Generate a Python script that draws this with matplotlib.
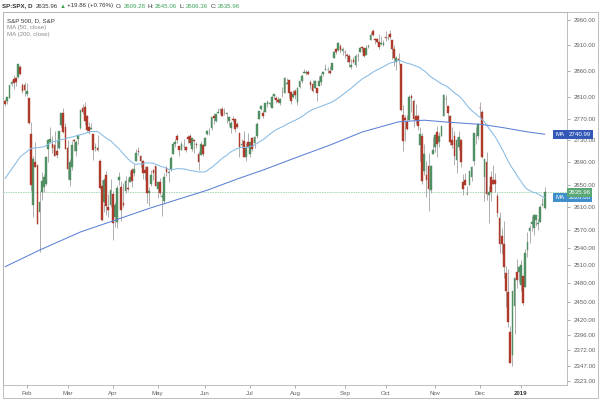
import matplotlib
matplotlib.use("Agg")
import matplotlib.pyplot as plt
import numpy as np
import pandas as pd
from matplotlib.patches import Rectangle
from matplotlib.ticker import FixedLocator, FixedFormatter, NullLocator

# ---------------- data (S&P 500 daily, 18 Jan 2018 .. 17 Jan 2019) ----------------
opens = [
2802.4, 2802.6, 2809.2, 2835.1, 2845.4, 2846.2, 2847.5, 2867.2, 2832.7, 2832.4,
2816.5, 2808.9, 2741.1, 2614.8, 2691.0, 2685.0, 2601.8, 2636.8, 2646.3, 2651.2,
2713.5, 2727.1, 2723.0, 2720.5, 2710.4, 2715.8, 2757.4, 2780.5, 2753.8, 2715.2,
2658.9, 2681.1, 2730.2, 2710.2, 2732.8, 2752.9, 2790.5, 2792.3, 2774.1, 2754.3,
2750.6, 2741.4, 2715.1, 2715.0, 2691.4, 2646.7, 2619.4, 2667.6, 2611.3, 2614.4,
2633.5, 2592.2, 2584.0, 2657.4, 2645.8, 2617.2, 2638.4, 2643.9, 2653.8, 2676.9,
2670.1, 2692.7, 2710.1, 2701.2, 2692.6, 2675.4, 2680.8, 2634.9, 2651.7, 2675.5,
2682.5, 2643.0, 2654.2, 2628.1, 2621.5, 2680.3, 2670.3, 2678.1, 2705.0, 2722.7,
2738.5, 2718.6, 2712.6, 2719.7, 2717.4, 2735.4, 2738.3, 2714.0, 2730.9, 2723.6,
2705.1, 2702.4, 2721.0, 2718.7, 2741.7, 2748.5, 2753.3, 2774.8, 2765.8, 2780.2,
2785.6, 2787.9, 2783.2, 2777.8, 2765.8, 2752.0, 2769.7, 2769.3, 2760.8, 2742.9,
2722.1, 2728.5, 2698.7, 2727.1, 2705.0, 2733.3, 2724.2, 2737.7, 2768.5, 2788.6,
2779.8, 2783.1, 2796.9, 2797.4, 2789.3, 2811.4, 2809.4, 2804.6, 2799.2, 2820.7,
2817.7, 2835.5, 2842.4, 2819.0, 2809.7, 2821.2, 2800.5, 2829.6, 2840.3, 2855.9,
2856.8, 2857.2, 2838.9, 2835.5, 2827.9, 2828.0, 2831.4, 2838.3, 2853.9, 2861.5,
2861.0, 2860.3, 2862.4, 2884.7, 2901.5, 2900.6, 2908.9, 2898.4, 2897.0, 2891.6,
2888.6, 2868.3, 2881.4, 2871.6, 2888.3, 2896.9, 2906.4, 2903.8, 2890.7, 2906.6,
2919.7, 2936.8, 2921.8, 2921.8, 2917.0, 2911.7, 2910.0, 2926.3, 2923.8, 2931.7,
2919.4, 2902.5, 2877.5, 2882.5, 2873.9, 2776.9, 2770.5, 2763.8, 2767.1, 2811.7,
2802.0, 2775.7, 2773.9, 2721.0, 2737.9, 2674.9, 2667.9, 2682.7, 2640.7, 2705.6,
2717.6, 2745.5, 2726.4, 2738.4, 2774.1, 2806.4, 2794.1, 2773.9, 2730.1, 2737.9,
2693.5, 2718.5, 2730.7, 2654.6, 2657.7, 2633.4, 2650.0, 2663.8, 2691.5, 2737.0,
2737.8, 2790.5, 2782.4, 2663.5, 2691.3, 2630.9, 2664.4, 2658.2, 2658.7, 2629.7,
2590.8, 2559.9, 2547.1, 2496.8, 2465.4, 2400.6, 2363.1, 2442.5, 2498.8, 2498.9,
2477.0, 2491.9, 2474.3, 2535.6, 2568.1, 2580.0, 2573.5, 2588.1, 2580.3, 2585.1,
2614.8, 2609.28]

highs = [
2805.8, 2810.3, 2833.0, 2842.2, 2852.1, 2848.6, 2872.9, 2870.6, 2837.8, 2839.3,
2836.0, 2808.9, 2763.4, 2701.0, 2727.7, 2685.3, 2638.7, 2672.6, 2668.8, 2702.1,
2731.5, 2754.4, 2737.6, 2747.8, 2731.3, 2747.8, 2780.6, 2789.2, 2761.5, 2730.9,
2696.3, 2728.1, 2732.1, 2730.6, 2740.5, 2786.6, 2797.0, 2801.9, 2777.1, 2763.0,
2761.9, 2741.4, 2724.2, 2739.1, 2695.7, 2657.7, 2661.4, 2674.8, 2632.7, 2659.1,
2638.3, 2619.1, 2649.9, 2672.1, 2656.9, 2653.6, 2665.5, 2661.4, 2674.7, 2680.3,
2686.5, 2713.3, 2717.5, 2702.8, 2693.9, 2682.9, 2683.6, 2645.3, 2676.5, 2677.4,
2682.9, 2655.3, 2660.9, 2637.1, 2670.9, 2683.4, 2676.3, 2701.3, 2726.1, 2732.9,
2742.1, 2718.6, 2727.8, 2732.0, 2719.5, 2739.2, 2742.2, 2733.3, 2732.0, 2727.4,
2710.7, 2729.3, 2722.5, 2736.9, 2749.2, 2752.6, 2772.4, 2779.9, 2779.4, 2790.2,
2789.8, 2791.5, 2789.1, 2782.8, 2775.0, 2765.1, 2774.9, 2769.3, 2764.2, 2742.9,
2732.9, 2746.1, 2724.3, 2743.3, 2727.3, 2736.6, 2737.8, 2764.4, 2784.7, 2795.6,
2785.9, 2799.2, 2804.5, 2801.2, 2814.2, 2816.8, 2812.1, 2809.7, 2808.6, 2830.0,
2848.0, 2845.6, 2843.2, 2821.7, 2824.5, 2825.8, 2829.9, 2840.4, 2853.3, 2863.4,
2862.4, 2862.5, 2842.2, 2843.4, 2843.1, 2828.0, 2850.5, 2855.6, 2859.8, 2873.2,
2867.5, 2868.8, 2876.2, 2898.3, 2903.8, 2916.5, 2912.5, 2906.3, 2900.2, 2894.2,
2892.1, 2883.8, 2886.9, 2892.5, 2894.7, 2906.8, 2908.3, 2904.7, 2911.2, 2912.4,
2934.8, 2940.9, 2923.8, 2924.0, 2931.2, 2927.2, 2920.5, 2937.1, 2931.4, 2939.9,
2919.8, 2909.6, 2889.5, 2894.8, 2874.0, 2795.1, 2775.8, 2776.0, 2813.5, 2816.9,
2806.0, 2797.8, 2778.9, 2753.6, 2742.6, 2722.7, 2692.4, 2706.9, 2685.4, 2736.7,
2741.7, 2756.6, 2744.3, 2756.8, 2815.2, 2814.8, 2794.1, 2776.0, 2754.6, 2746.8,
2735.4, 2746.8, 2733.2, 2669.4, 2670.7, 2647.6, 2674.4, 2682.5, 2744.0, 2753.8,
2760.9, 2800.2, 2785.9, 2696.2, 2708.5, 2647.5, 2674.4, 2685.4, 2670.2, 2635.1,
2601.1, 2574.0, 2585.3, 2509.6, 2504.4, 2410.3, 2467.8, 2489.1, 2520.3, 2509.2,
2519.5, 2493.1, 2538.1, 2566.2, 2579.8, 2595.3, 2597.8, 2596.3, 2589.3, 2613.1,
2625.8, 2645.06]

lows = [
2792.6, 2798.1, 2808.1, 2830.6, 2824.8, 2830.9, 2846.2, 2851.5, 2818.3, 2813.0,
2812.7, 2760.0, 2638.2, 2593.1, 2681.3, 2580.6, 2532.7, 2622.5, 2637.1, 2648.9,
2689.8, 2725.1, 2706.8, 2701.3, 2697.8, 2713.7, 2753.8, 2744.2, 2713.5, 2659.7,
2647.3, 2675.8, 2711.3, 2701.7, 2722.7, 2751.5, 2779.3, 2758.7, 2744.4, 2741.5,
2750.0, 2694.6, 2710.1, 2709.8, 2641.6, 2585.9, 2601.8, 2596.1, 2593.1, 2609.7,
2553.8, 2575.5, 2573.6, 2649.6, 2586.3, 2610.8, 2635.8, 2639.3, 2653.8, 2645.1,
2665.2, 2692.1, 2703.6, 2681.9, 2660.6, 2658.0, 2617.3, 2612.7, 2647.2, 2659.0,
2648.0, 2625.4, 2631.7, 2594.6, 2615.3, 2664.7, 2655.2, 2674.1, 2704.5, 2717.5,
2725.5, 2701.9, 2712.2, 2711.4, 2709.2, 2725.7, 2721.9, 2709.5, 2707.4, 2715.0,
2676.8, 2702.4, 2700.7, 2718.7, 2740.5, 2739.5, 2748.5, 2760.2, 2763.6, 2780.2,
2778.8, 2774.7, 2776.5, 2761.7, 2757.1, 2743.2, 2763.9, 2744.4, 2752.7, 2698.7,
2715.6, 2699.4, 2692.0, 2718.0, 2699.0, 2711.2, 2716.0, 2733.5, 2768.5, 2786.2,
2770.8, 2781.5, 2791.7, 2793.4, 2789.2, 2805.9, 2799.8, 2800.0, 2795.1, 2811.1,
2817.7, 2835.3, 2808.3, 2798.1, 2808.1, 2805.9, 2796.3, 2827.4, 2836.0, 2855.9,
2853.1, 2852.0, 2825.8, 2819.9, 2826.6, 2802.5, 2831.4, 2833.7, 2850.6, 2861.3,
2856.1, 2854.0, 2862.4, 2884.7, 2893.5, 2898.4, 2895.2, 2891.7, 2885.1, 2876.9,
2867.3, 2864.1, 2875.9, 2866.8, 2879.2, 2896.4, 2895.8, 2886.2, 2890.4, 2903.8,
2919.7, 2927.1, 2912.6, 2913.7, 2903.3, 2909.3, 2907.5, 2917.9, 2919.4, 2921.4,
2883.9, 2869.3, 2862.1, 2874.3, 2784.9, 2710.5, 2729.4, 2749.0, 2766.9, 2781.8,
2755.2, 2760.3, 2749.2, 2691.4, 2651.9, 2667.8, 2628.2, 2603.5, 2635.3, 2705.6,
2708.9, 2700.4, 2717.9, 2737.1, 2774.1, 2795.0, 2764.2, 2722.0, 2715.0, 2685.8,
2670.8, 2712.2, 2681.1, 2631.5, 2649.8, 2631.1, 2650.0, 2655.9, 2684.4, 2722.9,
2732.8, 2773.4, 2697.2, 2621.5, 2623.1, 2583.2, 2621.3, 2650.3, 2637.3, 2593.8,
2530.5, 2528.7, 2489.0, 2441.2, 2408.6, 2351.1, 2346.6, 2397.9, 2472.9, 2482.8,
2467.5, 2444.0, 2474.3, 2524.6, 2547.6, 2568.9, 2562.0, 2577.4, 2570.4, 2585.1,
2612.7, 2606.36]

closes = [
2798.0, 2810.3, 2833.0, 2839.1, 2837.5, 2839.3, 2872.9, 2853.5, 2822.4, 2823.8,
2822.0, 2762.1, 2648.9, 2695.1, 2681.7, 2581.0, 2619.6, 2656.0, 2662.9, 2698.6,
2731.2, 2732.2, 2716.3, 2701.3, 2704.0, 2747.3, 2779.6, 2744.3, 2713.8, 2677.7,
2691.3, 2720.9, 2728.1, 2726.8, 2739.0, 2786.6, 2783.0, 2765.3, 2749.5, 2747.3,
2752.0, 2712.9, 2716.9, 2711.9, 2643.7, 2588.3, 2658.6, 2612.6, 2605.0, 2640.9,
2581.9, 2614.5, 2644.7, 2662.8, 2604.5, 2613.2, 2656.9, 2642.2, 2664.0, 2656.3,
2677.8, 2706.4, 2708.6, 2693.1, 2670.1, 2670.3, 2634.6, 2639.4, 2666.9, 2669.9,
2648.1, 2654.8, 2635.7, 2629.7, 2663.4, 2672.6, 2671.9, 2697.8, 2723.1, 2727.7,
2730.1, 2711.5, 2722.5, 2720.1, 2713.0, 2733.0, 2724.4, 2733.3, 2727.8, 2721.3,
2689.9, 2724.0, 2705.3, 2734.6, 2746.9, 2748.8, 2772.4, 2770.4, 2779.0, 2782.0,
2786.9, 2775.6, 2782.5, 2779.7, 2773.8, 2762.6, 2767.3, 2749.8, 2754.9, 2717.1,
2723.1, 2699.6, 2716.3, 2718.4, 2726.7, 2713.2, 2736.6, 2759.8, 2784.2, 2793.8,
2774.0, 2798.3, 2801.3, 2798.4, 2809.6, 2815.6, 2804.5, 2801.8, 2807.0, 2820.4,
2846.1, 2837.4, 2818.8, 2802.6, 2816.3, 2813.4, 2827.2, 2840.4, 2850.4, 2858.5,
2857.7, 2853.6, 2833.3, 2821.9, 2840.0, 2818.4, 2840.7, 2850.1, 2857.1, 2863.0,
2861.8, 2857.0, 2874.7, 2896.7, 2897.5, 2914.0, 2901.1, 2901.5, 2896.7, 2888.6,
2878.1, 2871.7, 2877.1, 2887.9, 2888.9, 2904.2, 2905.0, 2888.8, 2904.3, 2908.0,
2930.8, 2929.7, 2919.4, 2915.6, 2906.0, 2914.0, 2914.0, 2924.6, 2923.4, 2925.5,
2901.6, 2885.6, 2884.4, 2880.3, 2785.7, 2728.4, 2767.1, 2750.8, 2809.9, 2809.2,
2768.8, 2767.8, 2755.9, 2740.7, 2656.1, 2705.6, 2658.7, 2641.3, 2682.6, 2711.7,
2740.4, 2723.1, 2738.3, 2755.5, 2813.9, 2806.8, 2781.0, 2726.2, 2722.2, 2701.6,
2730.2, 2736.3, 2690.7, 2641.9, 2649.9, 2632.6, 2673.5, 2682.2, 2743.8, 2737.8,
2760.2, 2790.4, 2700.1, 2696.0, 2633.1, 2637.7, 2636.8, 2651.1, 2650.5, 2600.0,
2545.9, 2546.2, 2507.0, 2467.4, 2416.6, 2351.1, 2467.7, 2488.8, 2485.7, 2506.9,
2510.0, 2447.9, 2531.9, 2549.7, 2574.4, 2585.0, 2596.6, 2596.3, 2582.6, 2610.3,
2616.1, 2635.96]

# MA(50) before the 50-bar window is filled
ma50_early_idx = [0, 7, 12, 18, 22, 29, 35, 40, 43, 48]
ma50_early_val = [2661, 2700, 2715, 2718, 2727, 2734, 2740, 2746, 2746, 2731]
# MA(200)
ma200_idx = [0, 16, 35, 50, 67, 94, 108, 120, 135, 151, 166, 183, 195, 207, 222, 232, 242, 251]
ma200_val = [2508, 2536, 2567, 2586, 2608, 2640, 2660, 2676, 2698, 2721, 2745, 2764, 2767,
             2763, 2759, 2753, 2746, 2740.99]

month_idx = [10, 29, 50, 71, 93, 114, 135, 158, 177, 200, 221, 240]
month_labels = ["Feb", "Mar", "Apr", "May", "Jun", "Jul", "Aug", "Sep", "Oct", "Nov", "Dec", "2019"]
y_ticks = [2323, 2347, 2372, 2396, 2420, 2450, 2480, 2510, 2540, 2570, 2610, 2650,
           2690, 2730, 2770, 2810, 2860, 2910, 2960]

last_close = 2635.96
ma50_last = 2626.80
ma200_last = 2740.99

# ---------------- figure ----------------
FONT = ["Liberation Sans", "DejaVu Sans"]
plt.rcParams["font.family"] = FONT
FS = 4.4
W, H = 600, 399

fig = plt.figure(figsize=(6, 3.99), dpi=100)
fig.patch.set_facecolor("white")

def fx(px):
    return px / W

def fy(py):
    return 1 - py / H

ax = fig.add_axes([fx(3), fy(385), fx(567) - fx(3), fy(12.3) - fy(385)])

o = np.array(opens); h = np.array(highs); l = np.array(lows); c = np.array(closes)
x = np.arange(len(c))
up = c >= o
UP, DOWN, WICK = "#4f8f62", "#ad3a2b", "#a8a8a8"

ax.vlines(x, l, h, color=WICK, lw=0.65, zorder=2)
body_lo = np.minimum(o, c)
body_hi = np.maximum(o, c)
ax.bar(x[up], body_hi[up] - body_lo[up], bottom=body_lo[up], width=0.8,
       color=UP, edgecolor=UP, linewidth=0.3, zorder=3)
ax.bar(x[~up], body_hi[~up] - body_lo[~up], bottom=body_lo[~up], width=0.8,
       color=DOWN, edgecolor=DOWN, linewidth=0.3, zorder=3)

# moving averages
ma50_calc = pd.Series(c).rolling(50).mean()
ma50_x = list(ma50_early_idx) + list(x[49:])
ma50_y = list(ma50_early_val) + list(ma50_calc.values[49:])
ax.plot(ma50_x, ma50_y, color="#86bbe6", lw=0.75, zorder=4)
ax.plot(ma200_idx, ma200_val, color="#5d80d6", lw=0.75, zorder=4)

# last price line
ax.axhline(last_close, color="#a6d8b4", lw=0.7, ls=(0, (1.5, 1)), zorder=1)

ax.set_yscale("log")
ax.set_ylim(2316.5, 2974.8)
ax.set_xlim(-1.02, 261.4)

ax.yaxis.tick_right()
ax.yaxis.set_major_locator(FixedLocator(y_ticks))
ax.yaxis.set_major_formatter(FixedFormatter([f"{v:.2f}" for v in y_ticks]))
ax.yaxis.set_minor_locator(NullLocator())
ax.tick_params(axis="y", which="major", length=2.5, width=0.5, color="#8c8c8c",
               labelcolor="#606060", labelsize=FS, pad=2)

ax.xaxis.set_major_locator(FixedLocator(month_idx))
ax.xaxis.set_major_formatter(FixedFormatter(month_labels))
ax.tick_params(axis="x", which="major", length=2, width=0.5, color="#8c8c8c",
               labelcolor="#606060", labelsize=FS, pad=2.5)
for t in ax.get_xticklabels():
    if t.get_text() == "2019":
        t.set_fontweight("bold")
        t.set_color("#333333")

for s in ax.spines.values():
    s.set_color("#b4b4b4")
    s.set_linewidth(0.6)

# outer frame
fig.patches.append(Rectangle((fx(3), fy(397.7)), fx(598) - fx(3), fy(12.3) - fy(397.7),
                             transform=fig.transFigure, fill=False, ec="#b4b4b4", lw=0.6))

# right-axis value labels
ytr = ax.get_yaxis_transform()
def val_box(val, txt, fc, z):
    ax.text(1.0 + 1.5 / 564, val, txt, transform=ytr, ha="left", va="center",
            fontsize=FS, color="white", clip_on=False, zorder=z,
            bbox=dict(boxstyle="square,pad=0.3", fc=fc, ec="none"))

def ma_box(val, fc):
    ax.text(1.0 - 2.5 / 564, val, "MA", transform=ytr, ha="right", va="center",
            fontsize=FS, color="white", clip_on=False, zorder=6,
            bbox=dict(boxstyle="square,pad=0.35", fc=fc, ec="none"))

val_box(ma200_last, f"{ma200_last:.2f}", "#3358b8", 7)
ma_box(ma200_last, "#3358b8")
val_box(ma50_last, f"{ma50_last:.2f}", "#3f8fcb", 7)
ma_box(ma50_last, "#3f8fcb")
val_box(last_close, f"{last_close:.2f}", "#5aa874", 8)

# header line
fig.canvas.draw()
renderer = fig.canvas.get_renderer()

def seq(x0, y0, parts):
    xx = x0
    for s, col, wt, gap in parts:
        t = fig.text(fx(xx), fy(y0), s, color=col, fontweight=wt, fontsize=FS,
                     ha="left", va="center", family=FONT)
        bb = t.get_window_extent(renderer)
        xx += bb.width + gap

DARK, GREEN = "#333333", "#3fa45a"
seq(2, 6, [("SP:SPX, D", DARK, "bold", 3.0), ("2635.96", DARK, "normal", 2.0),
           ("\u25B2", GREEN, "normal", 1.5), ("+19.86 (+0.76%)", DARK, "normal", 2.5),
           ("O:", DARK, "normal", 1.0), ("2609.28", GREEN, "normal", 2.5),
           ("H:", DARK, "normal", 1.0), ("2645.06", GREEN, "normal", 2.5),
           ("L:", DARK, "normal", 1.0), ("2606.36", GREEN, "normal", 2.5),
           ("C:", DARK, "normal", 1.0), ("2635.96", GREEN, "normal", 2.5)])

fig.text(fx(7), fy(20.5), "S&P 500, D, S&P", color=DARK, fontsize=FS, va="center")
fig.text(fx(7), fy(27.5), "MA (50, close)", color="#8a8a8a", fontsize=FS, va="center")
fig.text(fx(7), fy(34.5), "MA (200, close)", color="#8a8a8a", fontsize=FS, va="center")

fig.savefig("out.png", dpi=100, facecolor="white")
